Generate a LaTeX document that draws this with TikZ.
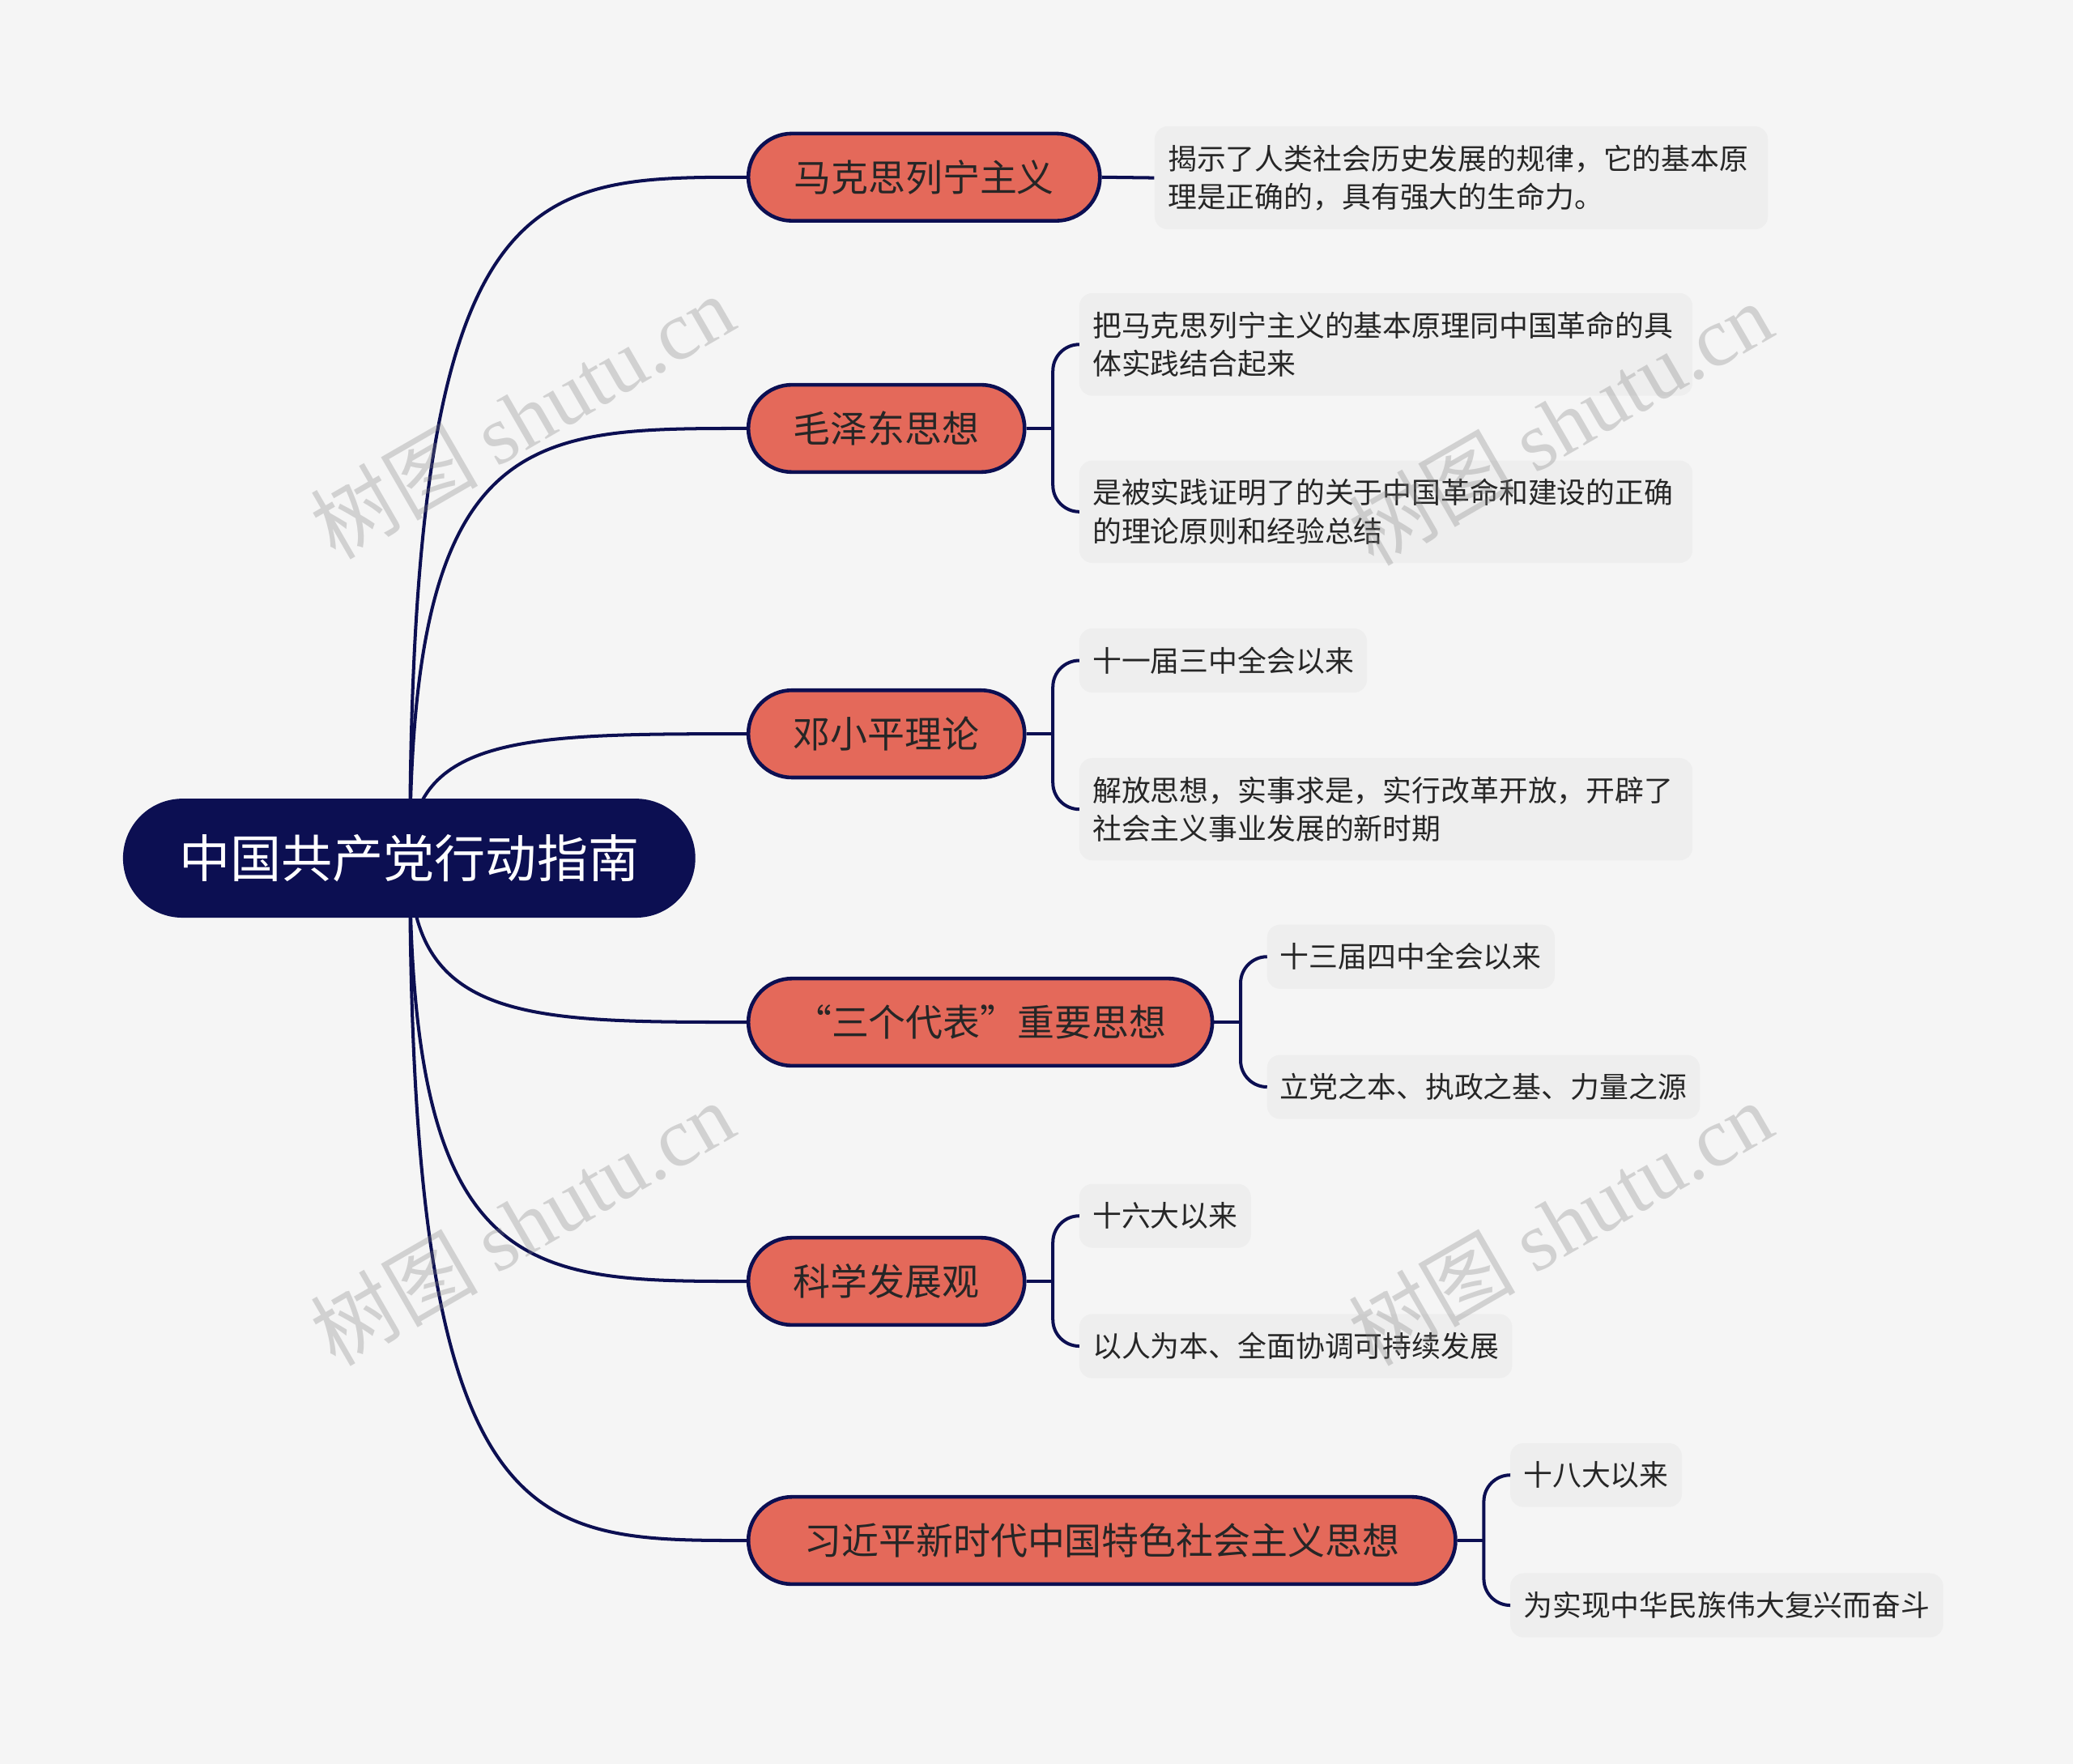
\documentclass[tikz,border=0pt]{standalone}
\usepackage{fontspec}
\setmainfont{Noto Sans CJK SC}
\newfontfamily\wmfont{Liberation Serif}
\definecolor{navy}{HTML}{0C0F52}
\definecolor{coral}{HTML}{E4695A}
\definecolor{leafbg}{HTML}{EEEEEE}
\definecolor{pagebg}{HTML}{F5F5F5}
\begin{document}
\begin{tikzpicture}[x=0.02cm, y=-0.02cm,
  root/.style = {fill=navy, rounded corners=0.9cm, minimum width=8.66cm, minimum height=1.8cm, text=white, font=\fontsize{22}{24}\selectfont},
  branch/.style = {draw=navy, line width=1.6pt, fill=coral, rounded corners=0.66cm, minimum height=1.32cm, text=black!85, font=\fontsize{16}{19}\selectfont},
  leaf/.style = {fill=leafbg, rounded corners=0.2cm, anchor=west, align=left, inner xsep=0.2cm, inner ysep=0.28cm, text=black!85, font=\fontsize{12.5}{16.5}\selectfont},
  link/.style = {draw=navy, line width=1.4pt},
  wmark/.style = {text=gray, text opacity=0.3, rotate=30, font=\fontsize{36}{40}\selectfont}]
  \useasboundingbox[fill=pagebg] (0,0) rectangle (1568,1334);
  %% NODES
  % Branches
  \node[branch, minimum width=5.32cm] (b1) at (699,134) {马克思列宁主义};
  \node[branch, minimum width=4.18cm] (b2) at (670.5,324) {毛泽东思想};
  \node[branch, minimum width=4.18cm] (b3) at (670.5,555) {邓小平理论};
  \node[branch, minimum width=7.02cm] (b4) at (741.5,773) {“三个代表”重要思想};
  \node[branch, minimum width=4.18cm] (b5) at (670.5,969) {科学发展观};
  \node[branch, minimum width=10.7cm] (b6) at (833.5,1165) {习近平新时代中国特色社会主义思想};
  % Leaves
  \node[leaf, text width=8.88cm] (l1) at (873,134.5) {揭示了人类社会历史发展的规律，它的基本原\\理是正确的，具有强大的生命力。};
  \node[leaf, text width=8.88cm] (l2a) at (816,260.5) {把马克思列宁主义的基本原理同中国革命的具\\体实践结合起来};
  \node[leaf, text width=8.88cm] (l2b) at (816,387) {是被实践证明了的关于中国革命和建设的正确\\的理论原则和经验总结};
  \node[leaf] (l3a) at (816,499.5) {十一届三中全会以来};
  \node[leaf, text width=8.88cm] (l3b) at (816,612) {解放思想，实事求是，实行改革开放，开辟了\\社会主义事业发展的新时期};
  \node[leaf] (l4a) at (958,723.5) {十三届四中全会以来};
  \node[leaf] (l4b) at (958,822) {立党之本、执政之基、力量之源};
  \node[leaf] (l5a) at (816,919.5) {十六大以来};
  \node[leaf] (l5b) at (816,1018) {以人为本、全面协调可持续发展};
  \node[leaf] (l6a) at (1142,1115.5) {十八大以来};
  \node[leaf] (l6b) at (1142,1214) {为实现中华民族伟大复兴而奋斗};
  %% LINKS
  % Root to branches
  \foreach \b/\cy in {b1/134, b2/324, b3/555, b4/773, b5/969, b6/1165}
    \draw[link] (310,649) .. controls (310,\cy) and (400,\cy) .. (\b.west);
  \node[root] (root) at (309.5,649) {中国共产党行动指南};
  % Branches to leaves
  \draw[link] (b1.east) -- (l1.west);
  \foreach \b/\la/\lb in {b2/l2a/l2b, b3/l3a/l3b, b4/l4a/l4b, b5/l5a/l5b, b6/l6a/l6b} {
    \draw[link] (\b.east) -- ++(20,0) coordinate (\b-j);
    \draw[link, rounded corners=0.4cm] (\b-j) |- (\la.west);
    \draw[link, rounded corners=0.4cm] (\b-j) |- (\lb.west);
  }
  %% WATERMARKS
  \foreach \wx/\wy in {395/315, 395/925, 1180/320, 1180/925}
    \node[wmark] at (\wx,\wy) {树图 {\wmfont shutu.cn}};
\end{tikzpicture}
\end{document}
